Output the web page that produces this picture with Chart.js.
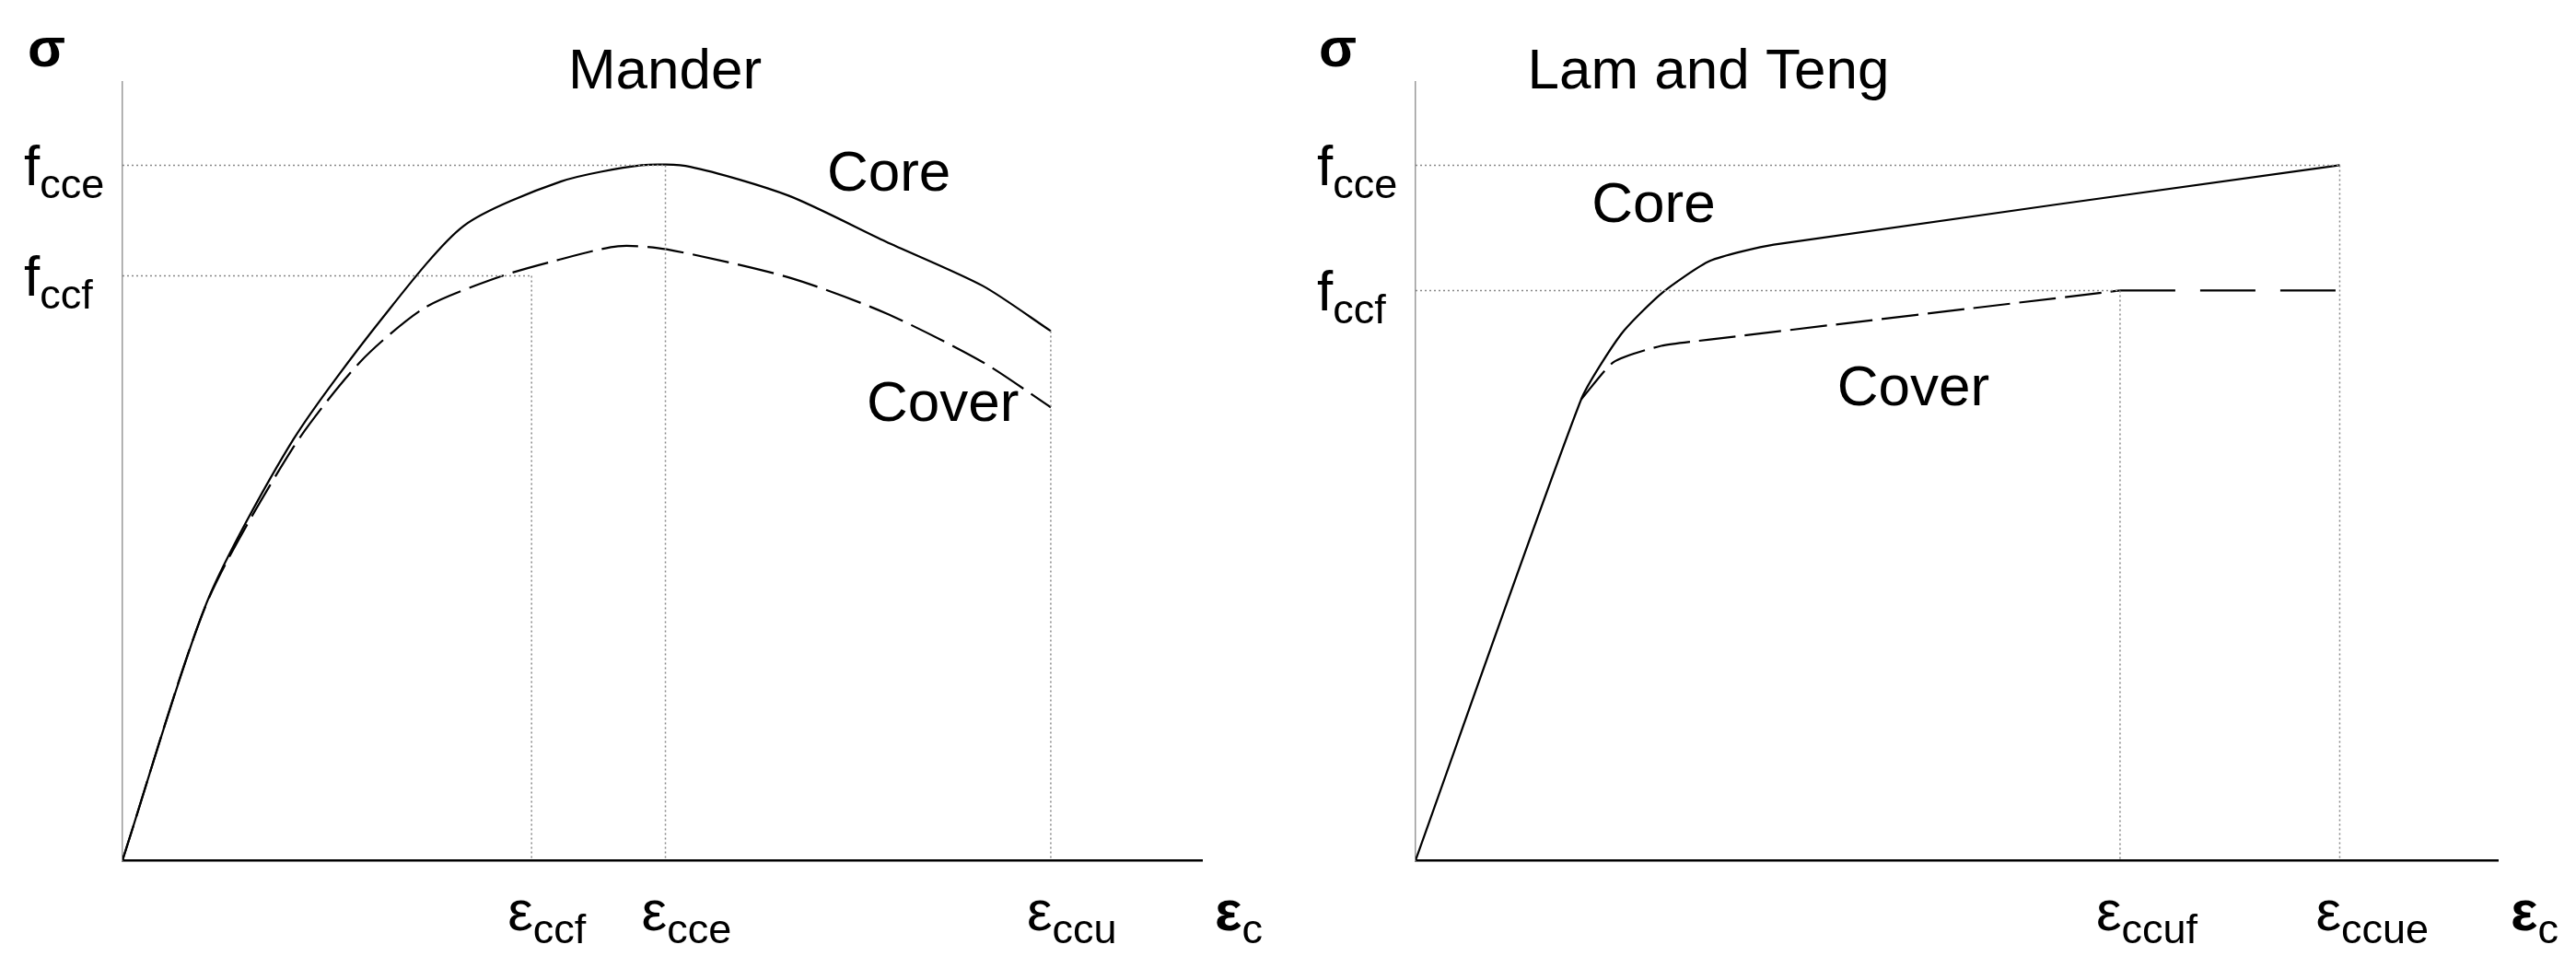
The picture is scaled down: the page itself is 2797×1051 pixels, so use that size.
<!DOCTYPE html>
<html>
<head>
<meta charset="utf-8">
<script src="https://cdn.jsdelivr.net/npm/chart.js@4.4.1/dist/chart.umd.min.js"></script>
<style>
  html, body { margin: 0; padding: 0; background: #fff; }
  .wrap { display: flex; width: 2797px; height: 1051px; }
  .box { position: relative; height: 1051px; }
</style>
</head>
<body>
<div class="wrap">
  <div class="box" style="width:1400px"><canvas id="mander"></canvas></div>
  <div class="box" style="width:1397px"><canvas id="lam"></canvas></div>
</div>
<script>
// Mander (strain 0..100, stress 0..100 normalised units)
const manderCoreX = [0, 7.8, 15.8, 24.1, 31.6, 40.6, 48.1, 52.6, 61.7, 70.7, 79.7, 86];
const manderCoreY = [0, 33.1, 54, 69.7, 81.5, 87.2, 89.3, 89.1, 85.4, 79.5, 73.8, 68.0];
const manderCoverX = [0, 7.8, 15.8, 22, 28, 35, 40, 45.9, 50.4, 61.7, 70.7, 79.7, 86];
const manderCoverY = [0, 33, 53, 64, 71, 75, 77, 78.9, 78.5, 74.9, 70.3, 64, 58.2];
const manderMarks = { fcce: 89.3, fccf: 75.1, eccf: 37.9, ecce: 50.3, eccu: 86, coreEnd: 68.0 };

// Lam and Teng
const lamCoreX = [0, 15.3, 19.0, 22.7, 27.2, 33.1, 85.4];
const lamCoreY = [0, 59.2, 67.6, 72.8, 77, 79.1, 89.3];
const lamCoverX = [15.3, 18.3, 22.7, 27.2, 65.1];
const lamCoverY = [59.2, 64, 66.1, 66.9, 73.2];
const lamCapX = [65.1, 85.4];
const lamCapY = [73.2, 73.2];
const lamMarks = { fcce: 89.3, fccf: 73.2, eccuf: 65.1, eccue: 85.4 };

const FONT = '"Liberation Sans", Arial, sans-serif';
const pts = (xs, ys) => xs.map((x, i) => ({ x, y: ys[i] }));

function curve(data, dash, tension) {
  return { data, showLine: true, borderColor: "#000", borderWidth: 2.2, pointRadius: 0,
    borderDash: dash || [], tension: tension == null ? 0.25 : tension };
}
function guide(data) {
  return { data, showLine: true, borderColor: "#888", borderWidth: 1.5, pointRadius: 0,
    borderDash: [2, 3], tension: 0 };
}

// text with subscript: main glyph + smaller subscript
function sub(ctx, x, y, main, subText, size, bold) {
  ctx.font = `${bold ? "bold " : ""}${size}px ${FONT}`;
  ctx.textAlign = "left"; ctx.textBaseline = "alphabetic";
  ctx.fillText(main, x, y);
  const w = ctx.measureText(main).width;
  ctx.font = `${Math.round(size * 0.72)}px ${FONT}`;
  ctx.fillText(subText, x + w, y + size * 0.22);
}

const labelsPlugin = {
  id: "labels",
  afterDraw(chart, args, opts) {
    const { ctx } = chart;
    const sx = chart.scales.x, sy = chart.scales.y;
    ctx.save();
    ctx.fillStyle = "#000";
    ctx.font = `bold 60px ${FONT}`;
    ctx.textBaseline = "alphabetic"; ctx.textAlign = "left";
    ctx.fillText("σ", opts.sigmaX, 72);
    ctx.font = `62px ${FONT}`;
    ctx.textAlign = "center";
    ctx.fillText(opts.title, opts.titleX, 96);
    for (const t of opts.texts) ctx.fillText(t.text, sx.getPixelForValue(t.x), sy.getPixelForValue(t.y));
    for (const f of opts.yLabels) sub(ctx, opts.fX, sy.getPixelForValue(f.y) + 22, "f", f.sub, 62);
    for (const e of opts.xLabels) {
      const px = sx.getPixelForValue(e.x) - 26;
      sub(ctx, px, sy.bottom + 76, "ε", e.sub, 62);
    }
    sub(ctx, sx.right + 14, sy.bottom + 76, "ε", "c", 62, true);
    ctx.restore();
  },
};

function makeChart(id, datasets, pad, labelOpts) {
  return new Chart(document.getElementById(id), {
    type: "scatter",
    data: { datasets },
    plugins: [labelsPlugin],
    options: {
      responsive: true, maintainAspectRatio: false, animation: false,
      layout: { padding: pad },
      plugins: { legend: { display: false }, tooltip: { enabled: false }, labels: labelOpts },
      scales: {
        x: { min: 0, max: 100, ticks: { display: false }, grid: { display: false },
          border: { display: true, color: "#000", width: 2.5 } },
        y: { min: 0, max: 100, ticks: { display: false }, grid: { display: false },
          border: { display: true, color: "#999", width: 1.5 } },
      },
    },
  });
}

const m = manderMarks;
makeChart("mander", [
  guide([{ x: 0, y: m.fcce }, { x: m.ecce, y: m.fcce }]),
  guide([{ x: m.ecce, y: m.fcce }, { x: m.ecce, y: 0 }]),
  guide([{ x: 0, y: m.fccf }, { x: m.eccf, y: m.fccf }]),
  guide([{ x: m.eccf, y: m.fccf }, { x: m.eccf, y: 0 }]),
  guide([{ x: m.eccu, y: m.coreEnd }, { x: m.eccu, y: 0 }]),
  curve(pts(manderCoreX, manderCoreY)),
  curve(pts(manderCoverX, manderCoverY), [40, 10]),
], { left: 125, right: 95, top: 89, bottom: 109 }, {
  sigmaX: 30, title: "Mander", titleX: 722, fX: 26,
  texts: [{ text: "Core", x: 71, y: 86 }, { text: "Cover", x: 76, y: 56.5 }],
  yLabels: [{ y: m.fcce, sub: "cce" }, { y: m.fccf, sub: "ccf" }],
  xLabels: [{ x: m.eccf, sub: "ccf" }, { x: m.ecce, sub: "cce" }, { x: m.eccu, sub: "ccu" }],
});

const l = lamMarks;
makeChart("lam", [
  guide([{ x: 0, y: l.fcce }, { x: l.eccue, y: l.fcce }]),
  guide([{ x: l.eccue, y: l.fcce }, { x: l.eccue, y: 0 }]),
  guide([{ x: 0, y: l.fccf }, { x: l.eccuf, y: l.fccf }]),
  guide([{ x: l.eccuf, y: l.fccf }, { x: l.eccuf, y: 0 }]),
  curve(pts(lamCoreX, lamCoreY), [], 0.2),
  curve(pts(lamCoverX, lamCoverY), [40, 10], 0.2),
  curve(pts(lamCapX, lamCapY), [60, 27], 0),
], { left: 129, right: 85, top: 89, bottom: 109 }, {
  sigmaX: 32, title: "Lam and Teng", titleX: 455, fX: 30,
  texts: [{ text: "Core", x: 22, y: 82 }, { text: "Cover", x: 46, y: 58.5 }],
  yLabels: [{ y: l.fcce, sub: "cce" }, { y: l.fccf, sub: "ccf" }],
  xLabels: [{ x: l.eccuf, sub: "ccuf" }, { x: l.eccue, sub: "ccue" }],
});
</script>
</body>
</html>
